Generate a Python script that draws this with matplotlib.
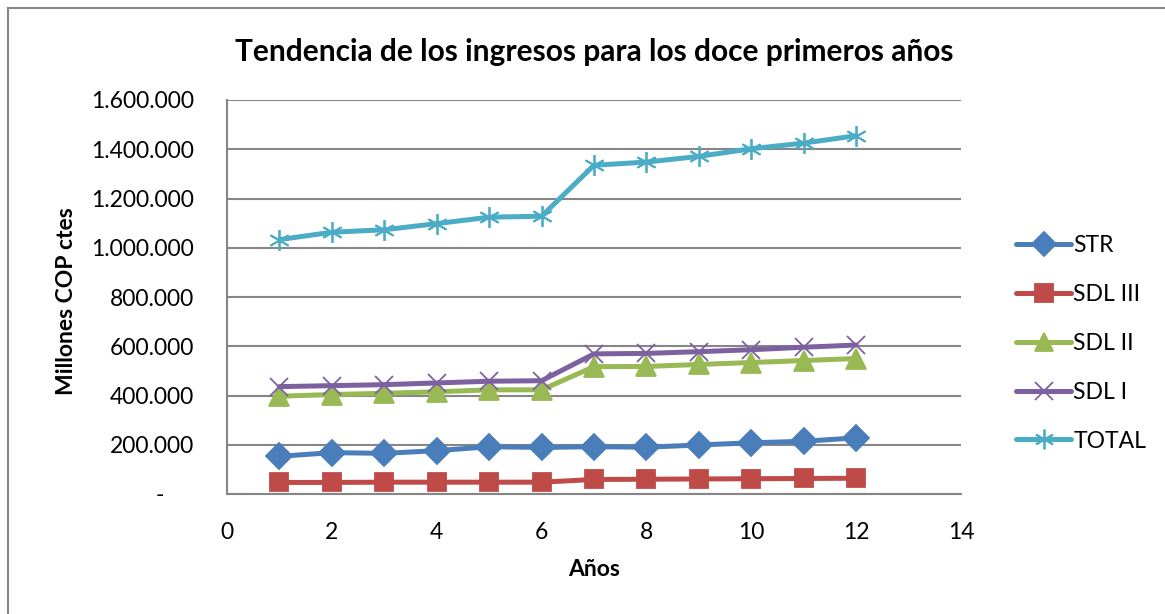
import matplotlib
matplotlib.use("Agg")
import matplotlib.pyplot as plt
from matplotlib.patches import Rectangle
from matplotlib.ticker import FuncFormatter

plt.rcParams["font.family"] = ["Lato", "DejaVu Sans"]

# datos (millones COP constantes)
anios = [1, 2, 3, 4, 5, 6, 7, 8, 9, 10, 11, 12]
str_ = [153000, 168000, 165000, 176000, 192000, 189000, 192000, 190000, 199000, 208000, 214000, 228000]
sdl_iii = [47000, 47000, 48000, 48000, 48000, 48000, 59000, 60000, 61000, 62000, 63000, 64000]
sdl_ii = [397000, 404000, 409000, 415000, 423000, 423000, 517000, 518000, 526000, 534000, 542000, 550000]
sdl_i = [436000, 440000, 444000, 451000, 458000, 460000, 569000, 571000, 578000, 586000, 596000, 605000]
total = [1033000, 1063000, 1073000, 1098000, 1124000, 1128000, 1335000, 1348000, 1371000, 1402000, 1425000, 1455000]

series = [
    ("STR", str_, "#4A7EBB", "D", 13),
    ("SDL III", sdl_iii, "#BE4B48", "s", 13),
    ("SDL II", sdl_ii, "#98B954", "^", 14),
    ("SDL I", sdl_i, "#7D60A0", "x", 13),
    ("TOTAL", total, "#4BACC6", (6, 2, 0), 15),
]

fig = plt.figure(figsize=(11.65, 6.14), dpi=100)
ax = fig.add_axes([227 / 1165, 1 - 494 / 614, (961 - 227) / 1165, (494 - 100) / 614])

# marco del area del grafico
fig.patches.append(Rectangle((8 / 1165, -0.1), 1.2, 1 - 8 / 614 + 0.1,
                             transform=fig.transFigure, fill=False,
                             edgecolor="#868686", linewidth=1.5))

for nombre, valores, color, marca, tam in series:
    ax.plot(anios, valores, color=color, linewidth=3.6, marker=marca,
            markersize=tam, markeredgewidth=1.3, markeredgecolor=color,
            markerfacecolor=color, label=nombre, solid_capstyle="round",
            zorder=3)

ax.set_xlim(0, 14)
ax.set_ylim(0, 1600000)
ax.set_xticks(range(0, 15, 2))
ax.set_yticks(range(0, 1600001, 200000))
ax.yaxis.set_major_formatter(FuncFormatter(
    lambda v, p: "-     " if v == 0 else f"{v:,.0f}".replace(",", ".")))
ax.tick_params(length=0, labelsize=16.5)
ax.tick_params(axis="y", pad=24)
ax.tick_params(axis="x", pad=20)
ax.grid(axis="y", color="#868686", linewidth=1.5)
ax.set_axisbelow(True)
for lado in ["top", "right"]:
    ax.spines[lado].set_visible(False)
for lado in ["left", "bottom"]:
    ax.spines[lado].set_color("#868686")
    ax.spines[lado].set_linewidth(1.5)

ax.set_title("Tendencia de los ingresos para los doce primeros años",
             fontsize=21.5, fontweight="bold", pad=28)
ax.set_xlabel("Años", fontsize=16.5, fontweight="bold", labelpad=12)
ax.set_ylabel("Millones COP ctes", fontsize=16.5, fontweight="bold")
ax.yaxis.set_label_coords(-0.205, 0.49)

ax.legend(loc="center left", bbox_to_anchor=(1.047, 0.383), frameon=False,
          fontsize=16.5, handlelength=2.4, handletextpad=0.1,
          labelspacing=1.22, markerscale=0.95)

fig.savefig("out.png", dpi=100)
